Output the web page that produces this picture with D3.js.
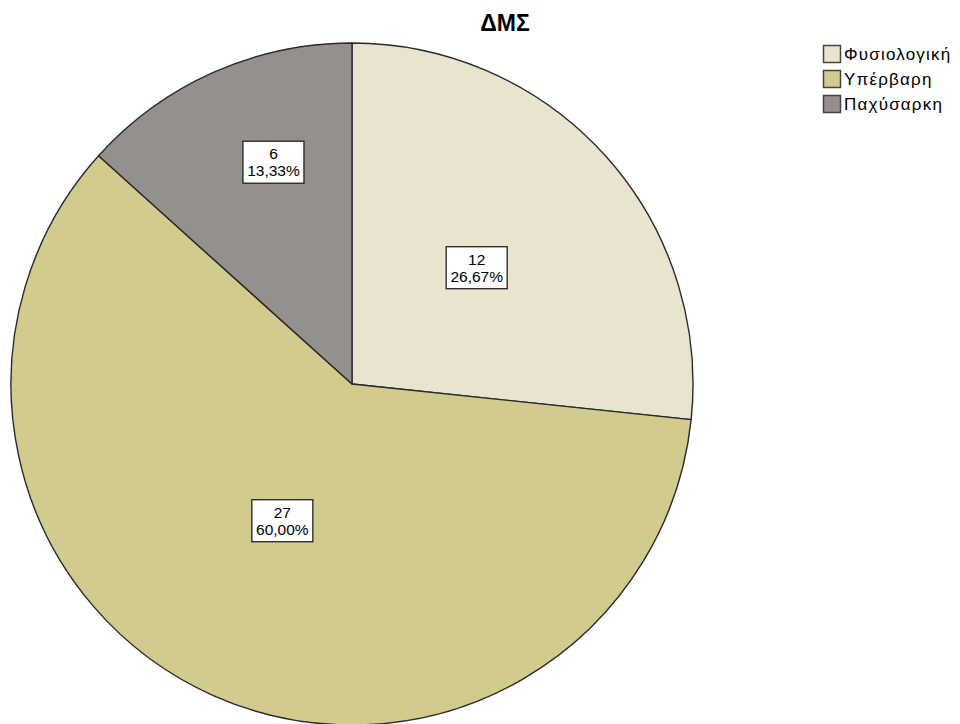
<!DOCTYPE html>
<html>
<head>
<meta charset="utf-8">
<script src="https://cdn.jsdelivr.net/npm/d3@7"></script>
<style>
  body { margin: 0; background: #fff; }
  svg { display: block; font-family: "Liberation Sans", Arial, sans-serif; }
</style>
</head>
<body>
<div id="viz"></div>
<script>
const title = "ΔΜΣ";
const categories = ["Φυσιολογική", "Υπέρβαρη", "Παχύσαρκη"];
const counts = [12, 27, 6];
const colors = ["#e9e4cf", "#d1cb8e", "#958f8d"];

// where each label box sits: fraction of radius, angle nudge in degrees
const labelPos = [[0.5, -1], [0.45, 3], [0.69, 4.5]];

const width = 960;
const height = 724;
const cx = 352, cy = 384, radius = 341;

const total = d3.sum(counts);
const data = categories.map((c, i) => ({ name: c, value: counts[i], color: colors[i], idx: i }));

const svg = d3.select("#viz").append("svg")
    .attr("width", width)
    .attr("height", height);

svg.append("text")
    .attr("x", 505)
    .attr("y", 31)
    .attr("text-anchor", "middle")
    .style("font-size", "23px")
    .style("font-weight", "bold")
    .attr("fill", "#000")
    .text(title);

const pie = d3.pie().sort(null).value(d => d.value);
const arc = d3.arc().innerRadius(0).outerRadius(radius);
const arcs = pie(data);

const g = svg.append("g").attr("transform", `translate(${cx},${cy})`);

g.selectAll(".slice")
    .data(arcs)
    .join("path")
        .attr("class", "slice")
        .attr("d", arc)
        .attr("fill", d => d.data.color)
        .attr("stroke", "#2a2a2a")
        .attr("stroke-width", 1.4)
        .attr("stroke-linejoin", "round");

const fmt = v => d3.format(".2f")(v).replace(".", ",") + "%";

const gLabel = g.selectAll(".slice-label")
    .data(arcs)
    .join("g")
        .attr("class", "slice-label")
        .attr("transform", d => {
            const [f, nudge] = labelPos[d.data.idx];
            const a = (d.startAngle + d.endAngle) / 2 + nudge * Math.PI / 180;
            const r = radius * f;
            return `translate(${r * Math.sin(a)},${-r * Math.cos(a)})`;
        });

gLabel.append("rect")
    .attr("x", -30.5)
    .attr("y", -21)
    .attr("width", 61)
    .attr("height", 42)
    .attr("fill", "#fff")
    .attr("stroke", "#222")
    .attr("stroke-width", 1.3);

gLabel.append("text")
    .attr("text-anchor", "middle")
    .attr("y", -3)
    .style("font-size", "15.5px")
    .attr("fill", "#000")
    .text(d => d.data.value);

gLabel.append("text")
    .attr("text-anchor", "middle")
    .attr("y", 14)
    .style("font-size", "15.5px")
    .attr("fill", "#000")
    .text(d => fmt(d.data.value / total * 100));

const legend = svg.append("g").attr("transform", "translate(823,45)");

const item = legend.selectAll(".legend-item")
    .data(data)
    .join("g")
        .attr("class", "legend-item")
        .attr("transform", (d, i) => `translate(0,${i * 25})`);

item.append("rect")
    .attr("x", 0.5)
    .attr("y", 0.5)
    .attr("width", 17)
    .attr("height", 17)
    .attr("fill", d => d.color)
    .attr("stroke", "#444")
    .attr("stroke-width", 1.5);

item.append("text")
    .attr("x", 21)
    .attr("y", 15)
    .style("font-size", "17px")
    .style("letter-spacing", "1.2px")
    .attr("fill", "#000")
    .text(d => d.name);
</script>
</body>
</html>
